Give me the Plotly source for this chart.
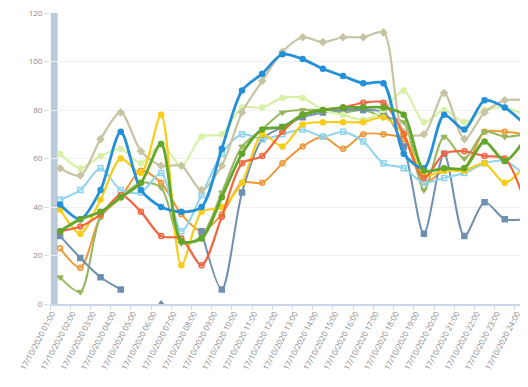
import plotly.graph_objects as go

# Hourly readings, 17/10/2020
categorias = [
    "17/10/2020 01:00", "17/10/2020 02:00", "17/10/2020 03:00", "17/10/2020 04:00",
    "17/10/2020 05:00", "17/10/2020 06:00", "17/10/2020 07:00", "17/10/2020 08:00",
    "17/10/2020 09:00", "17/10/2020 10:00", "17/10/2020 11:00", "17/10/2020 12:00",
    "17/10/2020 13:00", "17/10/2020 14:00", "17/10/2020 15:00", "17/10/2020 16:00",
    "17/10/2020 17:00", "17/10/2020 18:00", "17/10/2020 19:00", "17/10/2020 20:00",
    "17/10/2020 21:00", "17/10/2020 22:00", "17/10/2020 23:00", "17/10/2020 24:00",
]

serie_azul = [41, 35, 47, 71, 47, 40, 38, 40, 64, 88, 95, 103, 101, 97, 94, 91, 91, 62, 56, 78, 72, 84, 81, 74]
serie_caqui = [56, 53, 68, 79, 63, 57, 57, 47, 57, 79, 92, 104, 110, 108, 110, 110, 112, 71, 70, 87, 68, 79, 84, 84]
serie_lima = [62, 56, 61, 64, 58, 66, 57, 69, 70, 81, 81, 85, 85, 80, 78, 76, 80, 88, 75, 80, 75, 80, 81, 78]
serie_celeste = [43, 47, 56, 47, 46, 54, 30, 45, 62, 70, 68, 70, 72, 69, 71, 67, 58, 56, 50, 52, 54, 58, 59, 53]
serie_amarilla = [39, 29, 43, 60, 54, 78, 16, 38, 40, 50, 70, 65, 74, 75, 75, 75, 77, 70, 53, 55, 55, 58, 50, 57]
serie_verde = [30, 35, 38, 44, 50, 66, 26, 27, 44, 62, 72, 73, 78, 80, 81, 81, 81, 78, 55, 56, 56, 67, 59, 68]
serie_oliva = [11, 5, 36, 44, 50, 48, 25, 28, 46, 65, 72, 79, 80, 80, 79, 80, 77, 75, 47, 69, 60, 71, 69, 70]
serie_roja = [30, 32, 37, 45, 38, 28, 27, 16, 36, 58, 61, 71, 78, 80, 81, 83, 83, 70, 52, 62, 63, 61, 60, 42]
serie_naranja = [23, 15, 36, 44, 55, 50, 37, 30, 37, 50, 50, 58, 65, 69, 64, 70, 70, 68, 50, 55, 56, 71, 71, 70]
serie_pizarra = [28, 19, 11, 6, None, None, None, 30, 6, 46, 68, 73, 77, 79, 80, 80, 79, 65, 29, 62, 28, 42, 35, 35]
serie_punto = [None, None, None, None, None, 0, None, None, None, None, None, None,
               None, None, None, None, None, None, None, None, None, None, None, None]

series = [
    (serie_naranja, "#ee9838", "circle-open", 2),
    (serie_oliva, "#97b75e", "triangle-down", 2),
    (serie_pizarra, "#6f8fb1", "square", 2),
    (serie_celeste, "#8ed4ee", "square-open", 2),
    (serie_lima, "#d8f1a6", "circle", 2.2),
    (serie_caqui, "#c6c4a2", "diamond", 2.2),
    (serie_amarilla, "#f7cd1a", "circle", 2.2),
    (serie_roja, "#f2653f", "circle-open", 2.2),
    (serie_azul, "#2490d8", "circle", 2.8),
    (serie_verde, "#63a62c", "circle", 2.8),
]

fig = go.Figure()

for valores, color, simbolo, ancho in series:
    fig.add_trace(go.Scatter(
        x=categorias,
        y=valores,
        mode="lines+markers",
        line=dict(color=color, width=ancho, shape="spline", smoothing=0.8),
        marker=dict(color=color, symbol=simbolo, size=5, line=dict(color=color, width=1.5)),
        connectgaps=False,
    ))

fig.add_trace(go.Scatter(
    x=categorias,
    y=serie_punto,
    mode="markers",
    marker=dict(color="#6f8fb1", symbol="triangle-up", size=8),
    cliponaxis=False,
))

# y-axis rail on the left
fig.add_shape(type="rect", xref="x", yref="y", x0=-0.46, x1=-0.12, y0=0, y1=120,
              fillcolor="#bccbdc", line=dict(width=0), layer="below")

# page body adds an 8px offset, so the figure is sized to fit the window
fig.update_layout(
    width=520,
    height=379,
    margin=dict(l=42, r=0, t=5, b=83),
    paper_bgcolor="white",
    plot_bgcolor="white",
    showlegend=False,
    font=dict(family="Open Sans", size=8, color="#8a8a8a"),
    xaxis=dict(
        type="category",
        range=[-0.5, 23.15],
        tickangle=-62,
        ticks="outside",
        ticklen=4,
        tickcolor="#ccd6eb",
        tickson="boundaries",
        ticklabelshift=-8,
        showline=True,
        linecolor="#ccd6eb",
        linewidth=2,
        showgrid=False,
        tickfont=dict(size=8, color="#8a8a8a"),
    ),
    yaxis=dict(
        range=[0, 120],
        dtick=20,
        ticks="outside",
        ticklen=5,
        tickcolor="#d8dee8",
        gridcolor="#f0f0f0",
        zeroline=False,
        showline=False,
        ticklabeloverflow="allow",
        tickfont=dict(size=8, color="#8a8a8a"),
    ),
)

fig.write_html("out.html")
